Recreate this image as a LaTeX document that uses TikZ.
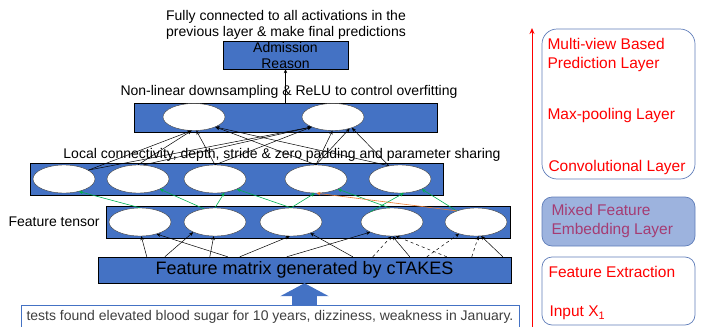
\documentclass[tikz,border=0pt]{standalone}
\usepackage{fontspec}
\setmainfont{Liberation Sans}
\usetikzlibrary{shapes.geometric,arrows.meta,positioning}
\definecolor{boxblue}{RGB}{68,114,196}
\definecolor{linkgreen}{RGB}{0,176,80}
\definecolor{linkorange}{RGB}{237,125,49}
\definecolor{panelfill}{RGB}{157,179,222}
\definecolor{panelline}{RGB}{95,125,185}
\definecolor{panelpurple}{RGB}{165,60,115}

\begin{document}
\begin{tikzpicture}[x=1pt,y=-1pt,
	layerbar/.style={rectangle,draw=black,fill=boxblue,inner sep=0pt},
	neuron/.style={ellipse,draw=black!75,fill=white,minimum width=62pt,minimum height=28pt,inner sep=0pt},
	caption/.style={font=\fontsize{14}{16}\selectfont,align=center,inner sep=0pt},
	feed/.style={-{Stealth[length=4pt,width=3.5pt]},black,line width=0.5pt},
	gfeed/.style={-{Stealth[length=4pt,width=3.5pt]},linkgreen,line width=0.6pt},
	panel/.style={rectangle,rounded corners=15pt,draw=panelline,line width=0.7pt},
	tag/.style={anchor=west,red,font=\fontsize{15.5}{19}\selectfont,align=left}]
\useasboundingbox (0,0) rectangle (713,327);
\node [caption] (fc) at (286,25) {Fully connected to all activations in the\\previous layer \& make final predictions};
\node [layerbar,minimum width=125pt,minimum height=28pt,font=\fontsize{14}{16}\selectfont,align=center] (adm) at (285.5,55) {Admission\\Reason};
\node [caption] (nl) at (289,92) {Non-linear downsampling \& ReLU to control overfitting};
\node [layerbar,minimum width=303pt,minimum height=29pt] (pool) at (285.5,117.5) {};
\node [neuron,minimum height=27pt] (m1) at (194,117) {};
\node [neuron,minimum height=27pt] (m2) at (333,117) {};
\node [caption] (lc) at (282,155) {Local connectivity, depth, stride \& zero padding and parameter sharing};
\node [layerbar,minimum width=413pt,minimum height=32pt] (conv) at (236.5,179) {};
\node [neuron] (c1) at (64,179) {};
\node [neuron] (c2) at (138,179) {};
\node [neuron] (c3) at (215,179) {};
\node [neuron] (c4) at (316,179) {};
\node [neuron] (c5) at (400,179) {};
\node [layerbar,minimum width=404pt,minimum height=32pt] (tens) at (308,222) {};
\node [caption,left=6pt of tens] (tl) {Feature tensor};
\node [neuron] (t1) at (140,222) {};
\node [neuron] (t2) at (215,222) {};
\node [neuron] (t3) at (291,222) {};
\node [neuron] (t4) at (392,222) {};
\node [neuron] (t5) at (476,222) {};
\node [layerbar,minimum width=413pt,minimum height=26pt,font=\fontsize{18}{20}\selectfont] (mat) at (304.5,270) {Feature matrix generated by cTAKES};
\node [rectangle,draw=boxblue,line width=0.8pt,fill=white,minimum width=498pt,minimum height=24pt,font=\fontsize{14}{16}\selectfont,text=black!75] (txt) at (270,317) {tests found elevated blood sugar for 10 years, dizziness, weakness in January.};
\draw [boxblue,line width=25pt,-{Triangle[width=48pt,length=13pt]}] (mat.south |- txt.north) -- (mat.south);
\draw [feed] (pool.north) -- (adm.south);
\draw [feed] (c1.20) -- (m1.-100);
\draw [feed] (c2.north) -- (m1.-100);
\draw [feed] (c3.north) -- (m1.-80);
\draw [feed] (c4.north) -- (m1.-25);
\draw [feed] (c5.130) -- (m1.-25);
\draw [feed] (c1.20) -- (m2.-155);
\draw [feed] (c2.70) -- (m2.-155);
\draw [feed] (c3.north) -- (m2.-155);
\draw [feed] (c4.north) -- (m2.-92);
\draw [feed] (c4.north) -- (m2.-35);
\draw [feed] (c5.130) -- (m2.-30);
\draw [gfeed] (t1.north) -- (c1.-40);
\draw [gfeed] (t2.130) -- (c2.-25);
\draw [gfeed] (t2.north) -- (c3.-55);
\draw [gfeed] (t3.north) -- (c3.-25);
\draw [gfeed] (t3.north) -- (c4.-95);
\draw [gfeed] (t4.100) -- (c4.-25);
\draw [gfeed] (t4.155) -- (c5.-75);
\draw [gfeed] (t5.150) -- (c5.-25);
\draw [gfeed,linkorange] (t5.150) -- (c4.-88);
\draw [feed] ([xshift=49pt]mat.north west) -- (t1.-85);
\draw [feed] ([xshift=67pt]mat.north west) -- (t2.-155);
\draw [feed] ([xshift=112pt]mat.north west) -- (t2.-95);
\draw [feed] ([xshift=130pt]mat.north west) -- (t1.-36);
\draw [feed] ([xshift=142pt]mat.north west) -- (t3.-95);
\draw [feed] ([xshift=189pt]mat.north west) -- (t4.-155);
\draw [feed] ([xshift=255pt]mat.north west) -- (t3.-30);
\draw [feed] ([xshift=312pt]mat.north west) -- (t4.-88);
\draw [feed] ([xshift=405pt]mat.north west) -- (t5.-70);
\draw [feed,dashed] ([xshift=275pt]mat.north west) -- (t4.-92);
\draw [feed,dashed] ([xshift=349pt]mat.north west) -- (t4.-75);
\draw [feed,dashed] ([xshift=329pt]mat.north west) -- (t5.-145);
\draw [feed,dashed] ([xshift=374pt]mat.north west) -- (t5.-80);
\coordinate (axisbot) at (532,327);
\coordinate (axistop) at (532,28);
\draw [red,line width=1pt,-{Stealth[length=6pt,width=5pt]}] (axisbot) -- (axistop);
\node [panel,minimum width=153pt,minimum height=150pt] (pv) at (618.5,104) {};
\node [panel,rounded corners=10pt,fill=panelfill,minimum width=153pt,minimum height=49pt] (pm) at (618.5,221.5) {};
\node [panel,rounded corners=10pt,minimum width=153pt,minimum height=68pt] (pf) at (618.5,291) {};
\node [tag] (tpred) at (544,55) {Multi-view Based\\Prediction Layer};
\node [tag] (tpool) at (544,115) {Max-pooling Layer};
\node [tag] (tconv) at (545,167) {Convolutional Layer};
\node [tag,text=panelpurple] (tmix) at (548,221) {Mixed Feature\\Embedding Layer};
\node [tag] (text) at (545,272) {Feature Extraction};
\node [tag] (tin) at (546,313) {Input X\textsubscript{1}};
\end{tikzpicture}
\end{document}
